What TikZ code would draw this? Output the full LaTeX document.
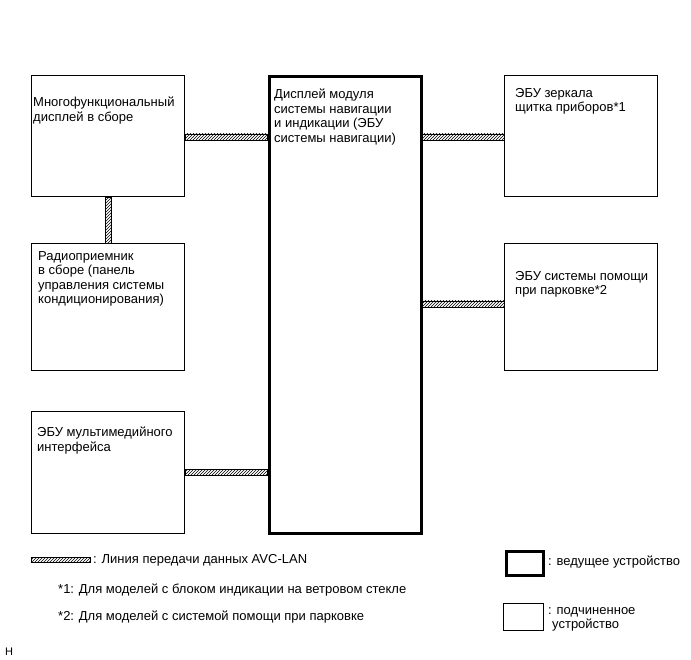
\documentclass[tikz,border=0pt]{standalone}
\usepackage{fontspec}
\setmainfont{Liberation Sans}
\usetikzlibrary{patterns}
\begin{document}
\begin{tikzpicture}[x=1pt,y=-1pt,
  box/.style={draw, line width=0.8pt, rectangle, inner sep=0pt, anchor=north west},
  master/.style={draw, line width=3pt, rectangle, inner sep=0pt, anchor=north west},
  lbl/.style={anchor=north west, inner sep=0pt, align=left, font=\fontsize{13}{14.5}\selectfont},
  leg/.style={anchor=west, inner sep=0pt, align=left, font=\fontsize{13}{15}\selectfont},
  avc/.style={pattern=north east lines, draw, line width=0.5pt}]
\useasboundingbox (0,0) rectangle (691,660);
% boxes
\node[box, minimum width=153pt, minimum height=121pt] (multi) at (31,75) {};
\node[box, minimum width=153pt, minimum height=127pt] (radio) at (31,243) {};
\node[box, minimum width=153pt, minimum height=122pt] (mm) at (31,411) {};
\node[master, minimum width=152pt, minimum height=456pt] (main) at (267.5,75.5) {};
\node[box, minimum width=153pt, minimum height=121pt] (mirror) at (504,75) {};
\node[box, minimum width=153pt, minimum height=127pt] (park) at (504,243) {};
% labels
\node[lbl] (tmulti) at (33,97) {Многофункциональный\\дисплей в сборе};
\node[lbl] (tradio) at (38,251) {Радиоприемник\\в сборе (панель\\управления системы\\кондиционирования)};
\node[lbl] (tmm) at (37,427) {ЭБУ мультимедийного\\интерфейса};
\node[lbl] (tmain) at (274,89) {Дисплей модуля\\системы навигации\\и индикации (ЭБУ\\системы навигации)};
\node[lbl] (tmirror) at (515,88) {ЭБУ зеркала\\щитка приборов*1};
\node[lbl] (tpark) at (515,271) {ЭБУ системы помощи\\при парковке*2};
% AVC-LAN connectors
\draw[avc] (multi.east |- 0,134) rectangle (main.west |- 0,140);
\draw[avc] (main.east |- 0,134) rectangle (mirror.west |- 0,140);
\draw[avc] (main.east |- 0,301) rectangle (park.west |- 0,307);
\draw[avc] (mm.east |- 0,469) rectangle (main.west |- 0,475);
\draw[avc] (multi.south -| 105,0) rectangle (radio.north -| 111,0);
% legend
\coordinate (ls) at (31,557);
\draw[avc] (ls) rectangle ++(59,5);
\node[leg] (l1) at (93,560) {: Линия передачи данных AVC-LAN};
\node[leg] (n1) at (58,590) {*1: Для моделей с блоком индикации на ветровом стекле};
\node[leg] (n2) at (58,617) {*2: Для моделей с системой помощи при парковке};
\node[master, minimum width=37pt, minimum height=24pt] (lmaster) at (504.5,549.5) {};
\node[leg] (tlmaster) at (548,562) {: ведущее устройство};
\node[box, minimum width=40pt, minimum height=27pt] (lslave) at (503,603) {};
\node[lbl] (tlslave) at (548,607) {: подчиненное\\\hspace*{4pt}устройство};
\node[anchor=west, inner sep=0pt, font=\fontsize{11}{13}\selectfont] (h) at (5,652) {H};
\end{tikzpicture}
\end{document}
